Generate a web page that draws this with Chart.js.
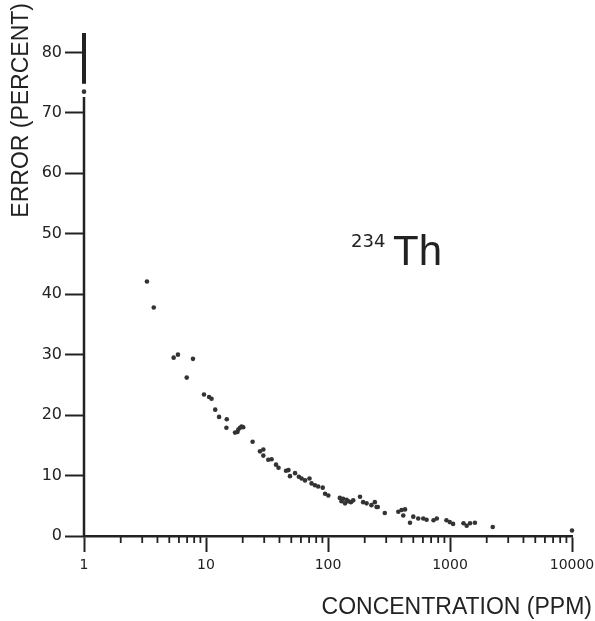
<!DOCTYPE html>
<html>
<head>
<meta charset="utf-8">
<script src="https://cdn.jsdelivr.net/npm/chart.js@4/dist/chart.umd.min.js"></script>
<style>
  html, body { margin: 0; padding: 0; background: #fff; }
  #wrap { width: 595px; height: 621px; }
</style>
</head>
<body>
<div id="wrap"><canvas id="c"></canvas></div>
<script>
// values (ppm, percent)
const concentration = [
  1, 3.28, 3.73, 5.43, 5.89, 7.82, 6.95, 9.63, 10.6, 11.1, 11.9, 12.8, 14.8, 14.7,
  17.3, 18.1, 18.4, 19.0, 19.6, 20.2, 24.1, 27.7, 29.5, 29.5, 32.4, 34.5, 37.5, 39.3,
  45.3, 47.4, 48.8, 53.7, 57.7, 60.7, 64.8, 70.5, 73.3, 78.2, 83.1, 90.5, 94.6, 100.6,
  125, 129, 133, 138, 142, 147, 154, 161, 183, 194, 207, 227, 242, 250, 256, 292,
  377, 401, 414, 428, 470, 500, 549, 604, 643, 733, 780, 935, 995, 1060,
  1290, 1370, 1460, 1600, 2240, 10000
];
const errorPct = [
  73.5, 42.1, 37.8, 29.5, 30.0, 29.3, 26.2, 23.4, 23.0, 22.7, 20.9, 19.7, 19.3, 17.9,
  17.1, 17.2, 17.6, 17.9, 18.1, 18.0, 15.6, 14.0, 14.3, 13.3, 12.6, 12.7, 11.8, 11.3,
  10.8, 10.9, 9.9, 10.4, 9.8, 9.5, 9.2, 9.5, 8.7, 8.4, 8.2, 8.0, 7.0, 6.7,
  6.3, 5.75, 6.15, 5.4, 6.0, 5.75, 5.6, 5.9, 6.5, 5.6, 5.4, 5.1, 5.6, 4.8, 4.8, 3.8,
  4.0, 4.3, 3.4, 4.4, 2.2, 3.2, 2.9, 2.9, 2.7, 2.6, 2.9, 2.6, 2.3, 2.0,
  2.1, 1.7, 2.1, 2.2, 1.5, 0.9
];

const xMajorTicks = [1, 10, 100, 1000, 10000];
const xTickLabels = ['1', '10', '100', '1000', '10000'];
const yTicks = [0, 10, 20, 30, 40, 50, 60, 70, 80];
const yTickLabels = ['0', '10', '20', '30', '40', '50', '60', '70', '80'];

const xTitle = 'CONCENTRATION (PPM)';
const yTitle = 'ERROR (PERCENT)';
const isotopeMass = '234';
const isotopeSymbol = 'Th';

const ink = '#222';

const points = concentration.map((c, i) => ({ x: c, y: errorPct[i] }));

// axis break on y, minor log ticks, titles and the isotope label
const decor = {
  id: 'decor',
  afterDraw(chart) {
    const { ctx, chartArea, scales: { x, y } } = chart;
    const seg = (x1, y1, x2, y2) => {
      ctx.beginPath(); ctx.moveTo(x1, y1); ctx.lineTo(x2, y2); ctx.stroke();
    };
    ctx.save();
    ctx.strokeStyle = ink;
    const ax = x.getPixelForValue(1);
    ctx.lineWidth = 4;
    seg(ax, chartArea.top, ax, y.getPixelForValue(74.8));
    ctx.lineWidth = 2.5;
    seg(ax, y.getPixelForValue(72.6), ax, y.getPixelForValue(0) + 1);

    // minor ticks on the log axis
    const by = y.getPixelForValue(0);
    ctx.lineWidth = 1.8;
    for (let d = 1; d < 10000; d *= 10) {
      for (let m = 2; m <= 9; m++) {
        const px = x.getPixelForValue(d * m);
        seg(px, by, px, by + 7);
      }
    }

    ctx.fillStyle = ink;
    ctx.font = '23px "Liberation Sans"';
    ctx.textAlign = 'right';
    ctx.textBaseline = 'alphabetic';
    ctx.fillText(xTitle, 592, 614);

    ctx.save();
    ctx.translate(28, 3);
    ctx.rotate(-Math.PI / 2);
    ctx.fillText(yTitle, 0, 0);
    ctx.restore();

    ctx.textAlign = 'left';
    ctx.font = '18px "DejaVu Sans"';
    ctx.fillText(isotopeMass, 351, 247);
    ctx.font = '42px "Liberation Sans"';
    ctx.fillText(isotopeSymbol, 393, 265);
    ctx.restore();
  }
};

new Chart(document.getElementById('c'), {
  type: 'scatter',
  data: {
    datasets: [{
      data: points,
      pointRadius: 2.3,
      pointBackgroundColor: '#333',
      pointBorderWidth: 0,
      clip: false
    }]
  },
  options: {
    responsive: true,
    maintainAspectRatio: false,
    animation: false,
    layout: { padding: { top: 33, right: 0, left: 0, bottom: 0 } },
    plugins: { legend: { display: false }, tooltip: { enabled: false } },
    scales: {
      x: {
        type: 'logarithmic',
        min: 1,
        max: 10000,
        afterBuildTicks: (s) => { s.ticks = xMajorTicks.map(v => ({ value: v, major: true })); },
        afterFit: (s) => { s.height = 85; s.paddingRight = 23; s.paddingLeft = 0; },
        ticks: {
          callback: (v, i) => xTickLabels[i],
          autoSkip: false,
          maxRotation: 0,
          padding: 5,
          color: ink,
          font: { family: 'DejaVu Sans', size: 14 }
        },
        grid: { drawOnChartArea: false, tickLength: 16, tickWidth: 2, tickColor: ink },
        border: { display: true, color: ink, width: 2.5 }
      },
      y: {
        min: 0,
        max: 83.2,
        afterBuildTicks: (s) => { s.ticks = yTicks.map(v => ({ value: v })); },
        afterFit: (s) => { s.width = 84; },
        ticks: {
          callback: (v, i) => yTickLabels[i],
          padding: 3,
          color: ink,
          font: { family: 'DejaVu Sans', size: 16 }
        },
        grid: { drawOnChartArea: false, tickLength: 19, tickWidth: 2, tickColor: ink },
        border: { display: false }
      }
    }
  },
  plugins: [decor]
});
</script>
</body>
</html>
